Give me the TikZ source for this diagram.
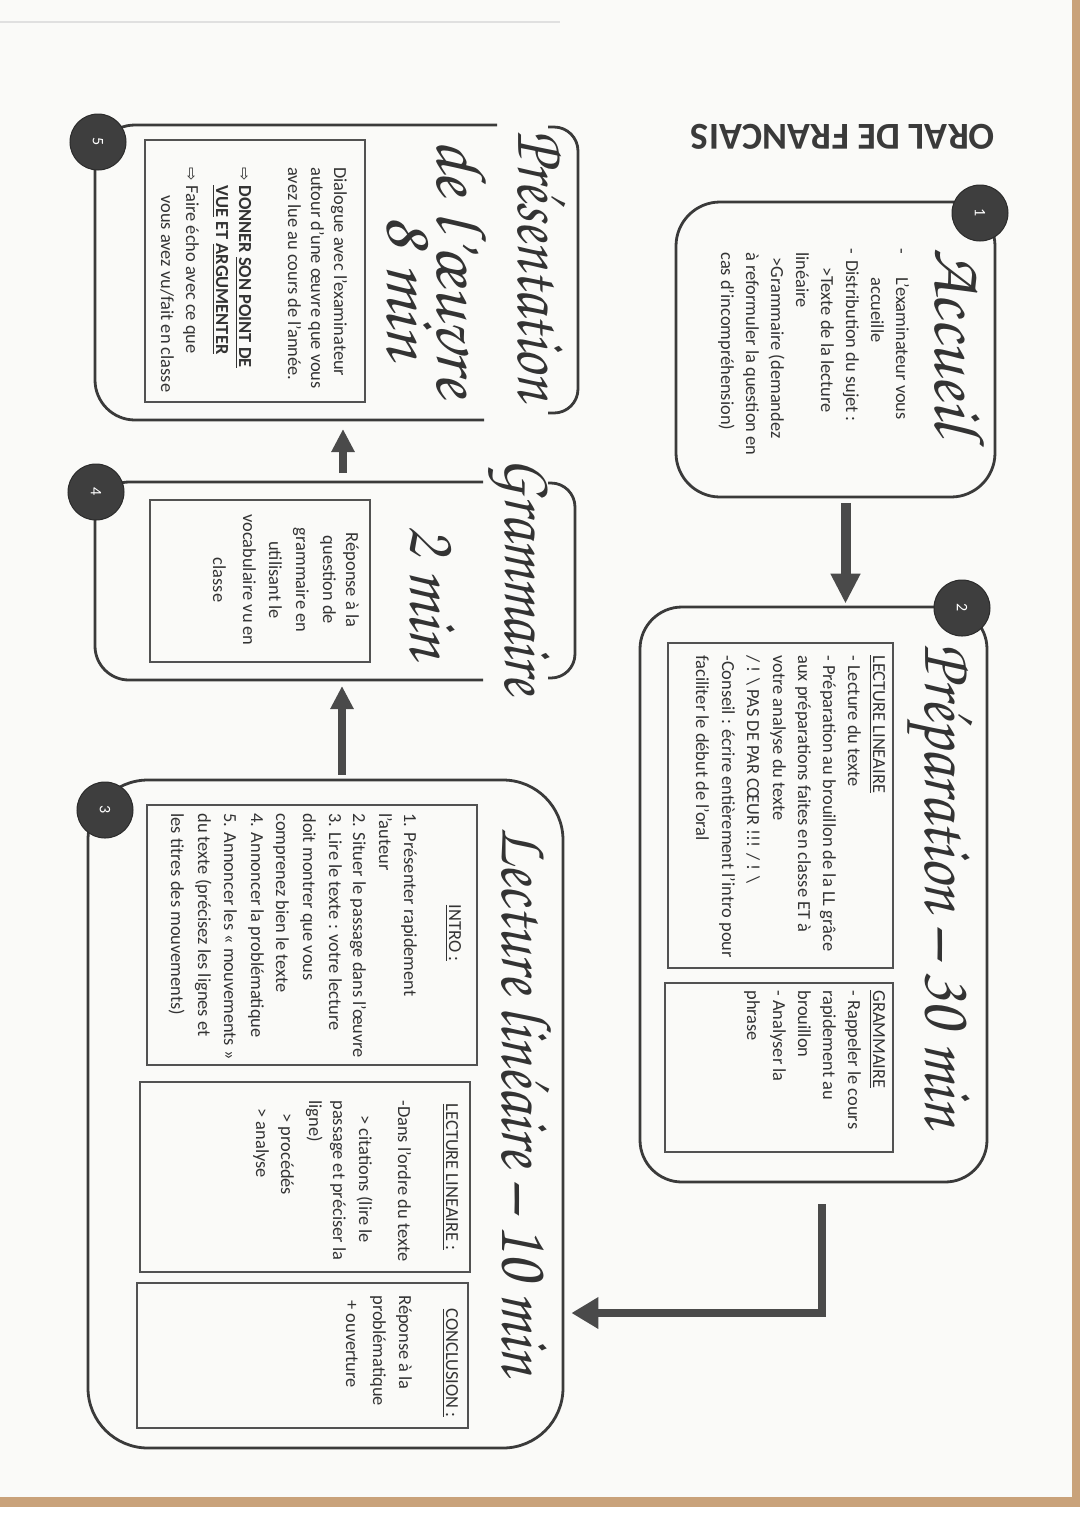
\documentclass[tikz,border=0pt]{standalone}
\usepackage{fontspec}
\setmainfont{Carlito}
\newfontfamily\djv{DejaVu Sans}
\IfFontExistsTF{texgyrechorus-mediumitalic.otf}
  {\newfontfamily\scrfont{texgyrechorus-mediumitalic.otf}}
  {\newcommand\scrfont{\itshape}}
\usetikzlibrary{arrows.meta}
\definecolor{paper}{HTML}{FAFAF8}
\definecolor{tablecol}{HTML}{C9A27A}
\definecolor{ink}{HTML}{333333}
\definecolor{boxline}{HTML}{3A3A3A}
\definecolor{arrowcol}{HTML}{4A4A4A}
\definecolor{numfill}{HTML}{3E3E3E}
\newcommand\TL[4]{\node[body,anchor=base west] (#1) at (#2,-#3) {#4};}
\newcommand\TC[4]{\node[body,anchor=base] (#1) at (#2,-#3) {#4};}
\tikzset{
  body/.style={rotate=-90, inner sep=0pt, text=ink, font=\fontsize{9.2}{11}\selectfont},
  ttl/.style={rotate=-90, inner sep=0pt, text=ink, font={\fontsize{36}{40}\scrfont}},
  frame/.style={draw=boxline, line width=1.4pt},
  boxnode/.style={draw=boxline, line width=1.4pt, rectangle, inner sep=0pt},
  innerbox/.style={draw=ink!85, line width=0.6pt, rectangle, inner sep=0pt},
  num/.style={circle, fill=numfill, draw=numfill!70!black, line width=0.5pt, minimum size=28pt, inner sep=0pt, text=white, rotate=-90, font=\fontsize{8}{9}\selectfont},
  flowbig/.style={draw=arrowcol, line width=5pt, -{Triangle[width=14pt,length=15pt]}},
  flowmid/.style={draw=arrowcol, line width=4pt, line join=miter, -{Triangle[width=15pt,length=13.5pt]}},
  flowsmall/.style={draw=arrowcol, line width=4pt, -{Triangle[width=11pt,length=11.5pt]}},
}
\begin{document}
\begin{tikzpicture}[x=0.5pt,y=0.5pt]
\useasboundingbox (0,0) rectangle (1080,-1528);
% background
\fill[white] (0,0) rectangle (1080,-1528);
\fill[paper] (0,0) rectangle (1072,-1497);
\fill[tablecol] (1072,0) rectangle (1080,-1507);
\fill[tablecol] (0,-1497) rectangle (1080,-1507);
\draw[black!12, line width=0.6pt] (0,-22) -- (560,-22);

% title
\node[rotate=180, inner sep=0pt, text=boxline, font=\fontsize{19}{20}\selectfont\bfseries] (title) at (843,-137) {ORAL DE FRANCAIS};

% main boxes
\node[boxnode, rounded corners=22pt, minimum width=159.5pt, minimum height=147.5pt] (box1) at (835.5,-349.5) {};
\node[boxnode, rounded corners=21pt, minimum width=173.5pt, minimum height=287.5pt] (box2) at (813.5,-894.5) {};
\node[boxnode, rounded corners=30pt, minimum width=237.5pt, minimum height=334pt] (box3) at (325.5,-1114) {};
\draw[frame, rounded corners=17pt] (483,-482) -- (95,-482) -- (95,-680) -- (483,-680);
\draw[frame, rounded corners=20pt] (497,-125) -- (95,-125) -- (95,-420) -- (484,-420);
\draw[frame, rounded corners=12pt] (548,-483) -- (575,-483) -- (575,-678) -- (548,-678);
\draw[frame, rounded corners=12pt] (548,-127) -- (578,-127) -- (578,-413) -- (548,-413);
\coordinate (b5bot) at (343,-420);
\coordinate (b4top) at (343,-482);
\coordinate (b4bot) at (342,-680);

% inner boxes
\node[innerbox, minimum width=112.5pt, minimum height=162.5pt] (in2a) at (780.5,-805.5) {};
\node[innerbox, minimum width=114pt, minimum height=84.5pt] (in2b) at (779,-1067.5) {};
\node[innerbox, minimum width=165pt, minimum height=130pt] (in3a) at (312,-935) {};
\node[innerbox, minimum width=165pt, minimum height=95pt] (in3b) at (305,-1177) {};
\node[innerbox, minimum width=165.5pt, minimum height=72.5pt] (in3c) at (302.5,-1355.5) {};
\node[innerbox, minimum width=110pt, minimum height=81pt] (in4) at (260,-581) {};
\node[innerbox, minimum width=110pt, minimum height=131pt] (in5) at (255,-271) {};

% script titles
\node[ttl, anchor=base] (t1) at (935,-341) {Accueil};
\node[ttl, xscale=0.89, anchor=base] (t2) at (925,-885) {Préparation – 30 min};
\node[ttl, xscale=0.86, anchor=base] (t3) at (502,-1101) {Lecture linéaire – 10 min};
\node[ttl, xscale=0.845, anchor=base] (t4) at (505,-576) {Grammaire};
\node[ttl, xscale=0.93, anchor=base] (t4b) at (410,-592) {2 min};
\node[ttl, xscale=0.84, anchor=base] (t5a) at (518,-265) {Présentation};
\node[ttl, anchor=base] (t5b) at (437,-268) {de l’œuvre};
\node[ttl, anchor=base] (t5c) at (387,-287) {8 min};

% box 1 text
\TL{a1}{896}{248}{-}
\TL{a1t}{896}{277}{L'examinateur vous}
\TL{a2}{871}{277}{accueille}
\TL{a3}{846}{248}{-}
\TL{a3t}{846}{260}{Distribution du sujet :}
\TL{a4}{821}{267}{>Texte de la lecture}
\TL{a5}{796}{252}{linéaire}
\TL{a6}{771}{257}{>Grammaire (demandez}
\TL{a7}{746}{252}{à reformuler la question en}
\TL{a8}{721}{252}{cas d'incompréhension)}

% box 2 text
\TL{b1}{873}{655}{\underline{LECTURE LINEAIRE}}
\TL{b2}{848}{655}{- Lecture du texte}
\TL{b3}{823}{655}{- Préparation au brouillon de la LL grâce}
\TL{b4}{798}{655}{aux préparations faites en classe ET à}
\TL{b5}{773}{655}{votre analyse du texte}
\TL{b6}{747}{655}{/ ! \textbackslash{} PAS DE PAR CŒUR !!! / ! \textbackslash}
\TL{b7}{722}{655}{-Conseil : écrire entièrement l'intro pour}
\TL{b8}{696}{655}{faciliter le début de l'oral}
\TL{c1}{873}{990}{\underline{GRAMMAIRE}}
\TL{c2}{848}{990}{- Rappeler le cours}
\TL{c3}{823}{990}{rapidement au}
\TL{c4}{798}{990}{brouillon}
\TL{c5}{773}{990}{- Analyser la}
\TL{c6}{747}{990}{phrase}

% box 3 text
\TC{d0}{449}{933}{\underline{INTRO :}}
\TL{d1}{404}{813}{1. Présenter rapidement}
\TL{d2}{379}{813}{l'auteur}
\TL{d3}{353}{813}{2. Situer le passage dans l'œuvre}
\TL{d4}{329}{813}{3. Lire le texte : votre lecture}
\TL{d5}{303}{813}{doit montrer que vous}
\TL{d6}{276}{813}{comprenez bien le texte}
\TL{d7}{251}{813}{4. Annoncer la problématique}
\TL{d8}{224}{813}{5. Annoncer les « mouvements »}
\TL{d9}{198}{813}{du texte (précisez les lignes et}
\TL{d10}{171}{813}{les titres des mouvements)}
\TC{e0}{446}{1177}{\underline{LECTURE LINEAIRE :}}
\TL{e1}{398}{1100}{-Dans l'ordre du texte}
\TL{e2}{359}{1100}{\hspace*{7.5pt}> citations (lire le}
\TL{e3}{333}{1100}{passage et préciser la}
\TL{e4}{309}{1100}{ligne)}
\TL{e5}{281}{1100}{\hspace*{6.5pt}> procédés}
\TL{e6}{256}{1100}{\hspace*{4pt}> analyse}
\TC{f0}{446}{1363}{\underline{CONCLUSION :}}
\TL{f1}{399}{1295}{Réponse à la}
\TL{f2}{373}{1295}{problématique}
\TL{f3}{346}{1300}{+ ouverture}

% box 4 text
\TC{g1}{346}{580}{Réponse à la}
\TC{g2}{323}{580}{question de}
\TC{g3}{296}{580}{grammaire en}
\TC{g4}{269}{580}{utilisant le}
\TC{g5}{243}{580}{vocabulaire vu en}
\TC{g6}{213}{580}{classe}

% box 5 text
\TL{h1}{334}{167}{Dialogue avec l'examinateur}
\TL{h2}{311}{167}{autour d'une œuvre que vous}
\TL{h3}{288}{167}{avez lue au cours de l'année.}
\node[body, anchor=base west, font={\fontsize{8}{9}\djv}] (h4a) at (239,-167) {⇨};
\TL{h4}{239}{185}{\textbf{DONNER \underline{SON POINT DE}}}
\TL{h5}{216}{185}{\textbf{\underline{VUE} ET \underline{ARGUMENTER}}}
\node[body, anchor=base west, font={\fontsize{8}{9}\djv}] (h6a) at (186,-167) {⇨};
\TL{h6}{186}{185}{Faire écho avec ce que}
\TL{h7}{161}{195}{vous avez vu/fait en classe}

% number circles
\node[num] (n1) at (980,-213) {1};
\node[num] (n2) at (962,-608) {2};
\node[num] (n3) at (105,-810) {3};
\node[num] (n4) at (96,-492) {4};
\node[num] (n5) at (98,-142) {5};

% connectors
\draw[flowbig, shorten <=2.5pt, shorten >=1pt] ([xshift=5pt]box1.south) -- ([xshift=5pt]box1.south |- box2.north);
\draw[flowmid, shorten <=10.5pt, shorten >=3.5pt] ([xshift=4.25pt]box2.south) |- ([yshift=-99.5pt]box3.east);
\draw[flowsmall, shorten <=2pt, shorten >=3pt] ([xshift=8.25pt]box3.north) -- (b4bot);
\draw[flowsmall, shorten <=4.5pt, shorten >=4.5pt] (b4top) -- (b5bot);
\end{tikzpicture}
\end{document}
